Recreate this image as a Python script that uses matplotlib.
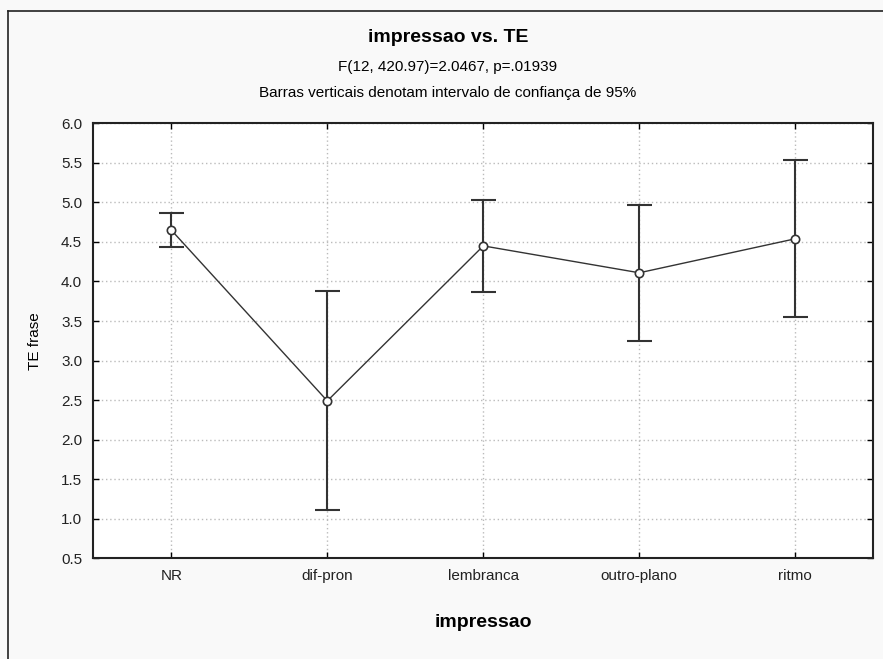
import matplotlib
matplotlib.use("Agg")
import matplotlib.pyplot as plt
from matplotlib.lines import Line2D

plt.rcParams['font.family'] = ['Liberation Sans Narrow', 'Liberation Sans', 'DejaVu Sans']

# data
categories = ["NR", "dif-pron", "lembranca", "outro-plano", "ritmo"]
means = [4.65, 2.49, 4.45, 4.11, 4.54]
ci_upper = [4.86, 3.88, 5.03, 4.97, 5.53]
ci_lower = [4.43, 1.11, 3.87, 3.25, 3.55]
yticks = [0.5, 1.0, 1.5, 2.0, 2.5, 3.0, 3.5, 4.0, 4.5, 5.0, 5.5, 6.0]

fig = plt.figure(figsize=(8.83, 6.59), dpi=100, facecolor="#f9f9f9")
ax = fig.add_axes([93.3 / 883, 1 - 558.3 / 659, 780 / 883, 435 / 659])
ax.set_facecolor("white")

x = list(range(len(categories)))
err_lo = [m - lo for m, lo in zip(means, ci_lower)]
err_hi = [hi - m for m, hi in zip(means, ci_upper)]

ax.plot(x, means, color="#333333", lw=1.0, zorder=3)
ax.errorbar(x, means, yerr=[err_lo, err_hi], fmt="none", ecolor="#333333",
            elinewidth=1.5, capsize=9, capthick=1.5, zorder=4)
ax.plot(x, means, ls="none", marker="o", ms=6, mfc="white", mec="#333333",
        mew=1.2, zorder=5)

ax.set_xlim(-0.5, 4.5)
ax.set_ylim(0.5, 6.0)
ax.set_xticks(x)
ax.set_xticklabels(categories, fontsize=11, color="#222222")
ax.set_yticks(yticks)
ax.set_yticklabels([f"{v:.1f}" for v in yticks], fontsize=11, color="#222222")
ax.tick_params(direction="in", length=4, width=1, top=True, right=True, pad=8)
ax.grid(True, ls=(0, (1, 2)), color="#bbbbbb", lw=1)
for s in ax.spines.values():
    s.set_linewidth(1.5)
    s.set_color("#222222")

ax.set_xlabel("impressao", fontsize=14, fontweight="bold", labelpad=22)
ax.set_ylabel("TE frase", fontsize=11, labelpad=14)

fig.text(448 / 883, 1 - 37 / 659, "impressao vs. TE", ha="center", va="center",
         fontsize=14, fontweight="bold")
fig.text(448 / 883, 1 - 67 / 659, "F(12, 420.97)=2.0467, p=.01939", ha="center",
         va="center", fontsize=11)
fig.text(448 / 883, 1 - 93 / 659, "Barras verticais denotam intervalo de confiança de 95%",
         ha="center", va="center", fontsize=11)

# outer frame: only the left and top edges show in the picture
fx, fy = 8 / 883, 1 - 11 / 659
fig.add_artist(Line2D([fx, fx], [0, fy], transform=fig.transFigure, color="#222222", lw=1.2))
fig.add_artist(Line2D([fx, 1], [fy, fy], transform=fig.transFigure, color="#222222", lw=1.2))

fig.savefig("out.png", dpi=100, facecolor=fig.get_facecolor())
